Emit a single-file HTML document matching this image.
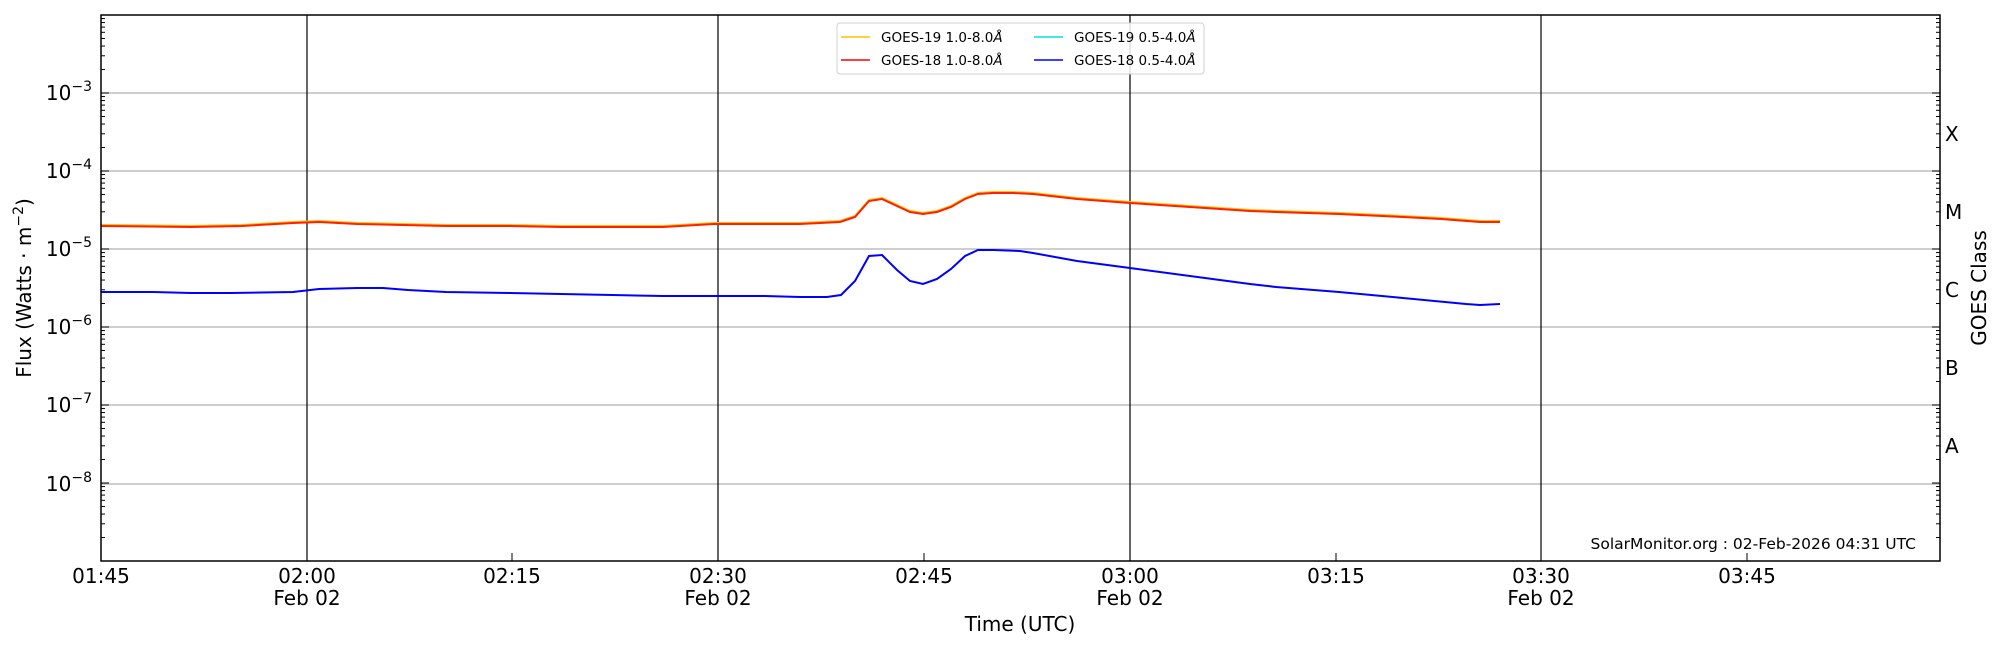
<!DOCTYPE html>
<html><head><meta charset="utf-8"><style>
html,body{margin:0;padding:0;background:#fff;}
svg{display:block;font-family:"DejaVu Sans","Liberation Sans",sans-serif;}
</style></head><body>
<svg id="s" width="2000" height="650" viewBox="0 0 2000 650" xmlns="http://www.w3.org/2000/svg">
<rect width="2000" height="650" fill="#fff"/>
<g id="grid" stroke="#b0b0b0" stroke-width="1.2">
<line x1="101" x2="1940" y1="93" y2="93"/><line x1="101" x2="1940" y1="171" y2="171"/>
<line x1="101" x2="1940" y1="249" y2="249"/><line x1="101" x2="1940" y1="327" y2="327"/>
<line x1="101" x2="1940" y1="405" y2="405"/><line x1="101" x2="1940" y1="484" y2="484"/>
</g>
<g stroke="#000" stroke-width="1.2">
<line x1="307" x2="307" y1="15" y2="561"/><line x1="718" x2="718" y1="15" y2="561"/>
<line x1="1130" x2="1130" y1="15" y2="561"/><line x1="1541" x2="1541" y1="15" y2="561"/>
</g>
<g id="ticks" stroke="#000" stroke-width="1"></g>
<polyline fill="none" stroke="#ffc000" stroke-width="2" transform="translate(0,-1)" points="101,226 191,227 242,226 293,223 319,222 357,224 446,226 510,226 561,227 612,227 663,227 714,224 765,224 800,224 840,222 855,217 869,201 882,199 897,206 910,212 923,214 937,212 951,207 965,199 978,194 993,193 1013,193 1033,194 1077,199 1130,203 1250,211 1276,212 1339,214 1403,217 1441,219 1480,222 1500,222"/>
<polyline fill="none" stroke="#ff2000" stroke-width="2" points="101,226 191,227 242,226 293,223 319,222 357,224 446,226 510,226 561,227 612,227 663,227 714,224 765,224 800,224 840,222 855,217 869,201 882,199 897,206 910,212 923,214 937,212 951,207 965,199 978,194 993,193 1013,193 1033,194 1077,199 1130,203 1250,211 1276,212 1339,214 1403,217 1441,219 1480,222 1500,222"/>
<polyline fill="none" stroke="#0000ff" stroke-width="2" points="101,292 153,292 191,293 230,293 293,292 319,289 357,288 383,288 408,290 446,292 510,293 561,294 612,295 663,296 714,296 765,296 800,297 827,297 841,295 855,281 869,256 882,255 897,270 910,281 923,284 937,279 951,269 965,256 978,250 993,250 1020,251 1033,253 1077,261 1130,268 1250,284 1276,287 1339,292 1403,298 1466,304 1480,305 1500,304"/>
<rect x="101" y="15" width="1839" height="546" fill="none" stroke="#000" stroke-width="1.5"/>
<g font-size="20" text-anchor="end" fill="#000">
<text x="92" y="100">10<tspan dy="-9" font-size="14">−3</tspan></text>
<text x="92" y="178">10<tspan dy="-9" font-size="14">−4</tspan></text>
<text x="92" y="256">10<tspan dy="-9" font-size="14">−5</tspan></text>
<text x="92" y="334">10<tspan dy="-9" font-size="14">−6</tspan></text>
<text x="92" y="412">10<tspan dy="-9" font-size="14">−7</tspan></text>
<text x="92" y="491">10<tspan dy="-9" font-size="14">−8</tspan></text>
</g>
<g font-size="20" fill="#000">
<text x="1945" y="141">X</text><text x="1945" y="219">M</text><text x="1945" y="297">C</text>
<text x="1945" y="375">B</text><text x="1945" y="453">A</text>
</g>
<text font-size="20" transform="translate(1986,288) rotate(-90)" text-anchor="middle">GOES Class</text>
<text font-size="20" transform="translate(31,288) rotate(-90)" text-anchor="middle">Flux (Watts · m<tspan dy="-8" font-size="14">−2</tspan><tspan dy="8">)</tspan></text>
<g font-size="20" text-anchor="middle" fill="#000">
<text x="101" y="583">01:45</text>
<text x="307" y="583">02:00</text><text x="307" y="605">Feb 02</text>
<text x="512" y="583">02:15</text>
<text x="718" y="583">02:30</text><text x="718" y="605">Feb 02</text>
<text x="924" y="583">02:45</text>
<text x="1130" y="583">03:00</text><text x="1130" y="605">Feb 02</text>
<text x="1336" y="583">03:15</text>
<text x="1541" y="583">03:30</text><text x="1541" y="605">Feb 02</text>
<text x="1747" y="583">03:45</text>
<text x="1020" y="631">Time (UTC)</text>
</g>
<text x="1916" y="549" font-size="15.5" text-anchor="end">SolarMonitor.org : 02-Feb-2026 04:31 UTC</text>
<rect x="837" y="23" width="367" height="51" rx="3" fill="#fff" fill-opacity="0.85" stroke="#d0d0d0"/>
<line x1="841" x2="870" y1="37" y2="37" stroke="#ffc000" stroke-width="1.5"/>
<line x1="841" x2="870" y1="60" y2="60" stroke="#ff0000" stroke-width="1.5"/>
<line x1="1034" x2="1063" y1="37" y2="37" stroke="#00e0e0" stroke-width="1.5"/>
<line x1="1034" x2="1063" y1="60" y2="60" stroke="#0000ff" stroke-width="1.5"/>
<g font-size="13.5" fill="#000">
<text x="881" y="42">GOES-19 1.0-8.0<tspan font-style="italic">Å</tspan></text>
<text x="881" y="65">GOES-18 1.0-8.0<tspan font-style="italic">Å</tspan></text>
<text x="1074" y="42">GOES-19 0.5-4.0<tspan font-style="italic">Å</tspan></text>
<text x="1074" y="65">GOES-18 0.5-4.0<tspan font-style="italic">Å</tspan></text>
</g>
</svg>
<script>
(function(){
var g=document.getElementById('ticks'),s='';
function L(x1,y1,x2,y2){s+='<line x1="'+x1+'" y1="'+y1+'" x2="'+x2+'" y2="'+y2+'"/>';}
for(var e=-9;e<=-2;e++){
 var yb=15+(-2-e)*78;
 if(yb>=15&&yb<=561){L(101,yb,109,yb);L(1940,yb,1932,yb);}
 for(var m=2;m<=9;m++){var y=yb-Math.log10(m)*78;if(y>15&&y<561){L(101,y,105,y);L(1940,y,1936,y);}}
}
[101,307,512,718,924,1130,1336,1541,1747].forEach(function(x){L(x,561,x,553);});
g.innerHTML=s;
})();
</script>
</body></html>
